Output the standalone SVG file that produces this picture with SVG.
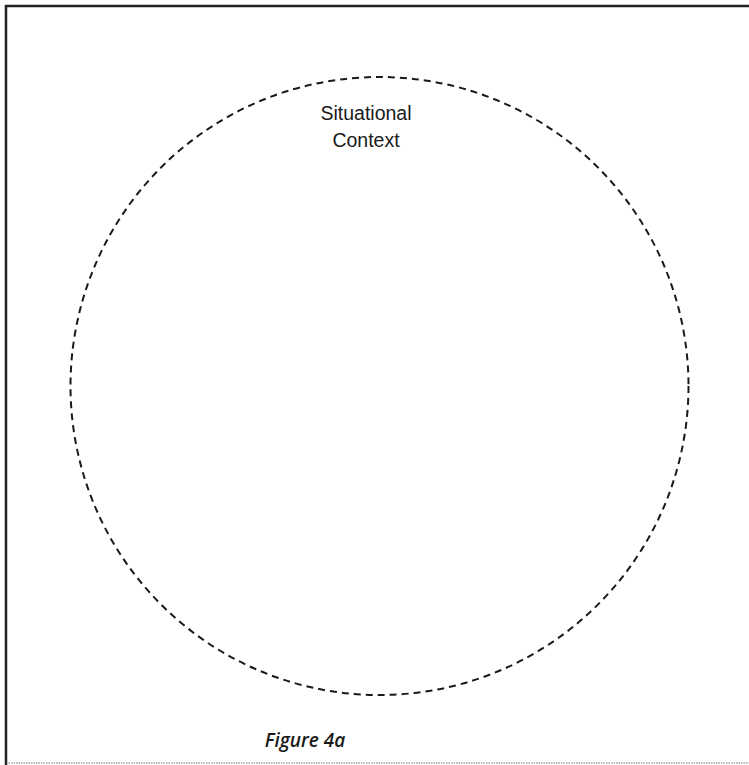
<svg xmlns="http://www.w3.org/2000/svg" width="749" height="765" viewBox="0 0 749 765">
<style>
.lbl{font-family:"Liberation Sans",Arial,sans-serif;font-size:19.5px;fill:#1a1a1a;text-anchor:middle}
.cap{font-family:"Open Sans","DejaVu Sans",sans-serif;font-size:19px;font-style:italic;font-weight:600;fill:#1a1a1a;text-anchor:middle}
</style>
<rect width="749" height="765" fill="#fff"/>
<g id="frame">
<path d="M6,765 V6 H749" fill="none" stroke="#222" stroke-width="2.5"/>
<line x1="6" y1="763" x2="749" y2="763" stroke="#777" stroke-width="1.2" stroke-dasharray="1.5 1"/>
</g>
<g id="context">
<circle cx="379.5" cy="386" r="309" fill="none" stroke="#1a1a1a" stroke-width="2" stroke-dasharray="7 5"/>
<text class="lbl" x="366" y="120">Situational</text>
<text class="lbl" x="366" y="147">Context</text>
</g>
<g id="caption">
<text class="cap" x="305" y="747">Figure 4a</text>
</g>
</svg>
